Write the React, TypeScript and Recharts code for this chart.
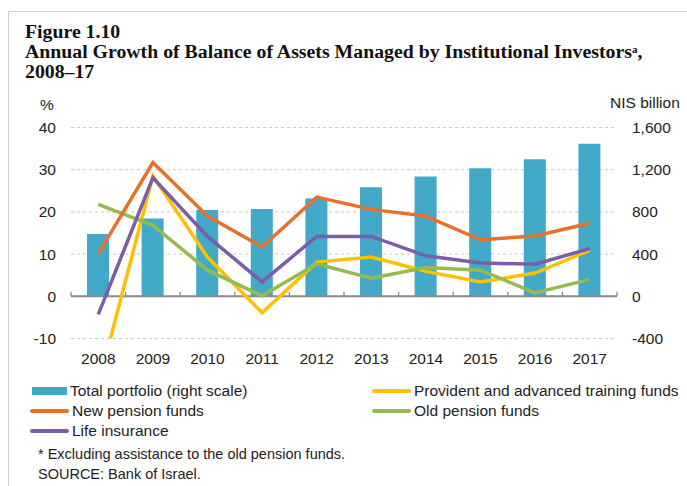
import React from 'react';
import { ComposedChart, Bar, Line, XAxis, YAxis, CartesianGrid, ReferenceLine } from 'recharts';

const years = ['2008', '2009', '2010', '2011', '2012', '2013', '2014', '2015', '2016', '2017'];
const totalPortfolio = [590, 737, 818, 828, 926, 1033, 1135, 1213, 1299, 1447];
const newPension = [10.1, 31.7, 19.0, 11.7, 23.5, 20.6, 19.0, 13.4, 14.3, 17.3];
const provident = [-21, 28.5, 9.3, -3.9, 8.1, 9.3, 5.9, 3.4, 5.5, 10.9];
const oldPension = [21.8, 16.8, 6.2, 0.1, 7.7, 4.3, 6.8, 6.2, 0.8, 4.0];
const lifeInsurance = [-4.3, 28.1, 14.2, 3.4, 14.2, 14.2, 9.6, 7.9, 7.6, 11.3];

const leftTicks = [-10, 0, 10, 20, 30, 40];
const rightTicks = [-400, 0, 400, 800, 1200, 1600];

const titleLines = ['Figure 1.10', 'Annual Growth of Balance of Assets Managed by Institutional Investors', '2008\u201317'];
const footnote = '* Excluding assistance to the old pension funds.';
const source = 'SOURCE: Bank of Israel.';

const COLORS = {
  total: '#42A9C8',
  newPension: '#E8702A',
  provident: '#FFC000',
  oldPension: '#93BB52',
  life: '#7B5EA7',
};

const legendItems = [
  { name: 'Total portfolio (right scale)', color: COLORS.total, kind: 'bar', col: 0, row: 0 },
  { name: 'Provident and advanced training funds', color: COLORS.provident, kind: 'line', col: 1, row: 0 },
  { name: 'New pension funds', color: COLORS.newPension, kind: 'line', col: 0, row: 1 },
  { name: 'Old pension funds', color: COLORS.oldPension, kind: 'line', col: 1, row: 1 },
  { name: 'Life insurance', color: COLORS.life, kind: 'line', col: 0, row: 2 },
];

const data = years.map((y, i) => ({
  year: y,
  total: totalPortfolio[i],
  newPension: newPension[i],
  provident: provident[i],
  oldPension: oldPension[i],
  life: lifeInsurance[i],
}));

const SANS = '"Liberation Sans", Arial, sans-serif';
const SERIF = '"Liberation Serif", "Times New Roman", serif';

const ZeroAxis = (props: any) => {
  const { x1, x2, y1 } = props;
  const n = years.length;
  const step = (x2 - x1) / n;
  const ticks = [];
  for (let i = 0; i <= n; i++) {
    const x = x1 + i * step;
    ticks.push(<line key={i} x1={x} x2={x} y1={y1} y2={y1 - 4.5} stroke="#8a8a8a" strokeWidth={1.3} />);
  }
  return (
    <g>
      <line x1={x1} x2={x2} y1={y1} y2={y1} stroke="#8a8a8a" strokeWidth={2} />
      {ticks}
    </g>
  );
};

export default function App() {
  const tickStyle = { fontSize: 15.5, fill: '#222', fontFamily: SANS };
  return (
    <div style={{ position: 'relative', width: 687, height: 486, background: '#fff', overflow: 'hidden' }}>
      <style>{`body{margin:0;}`}</style>
      <div style={{ position: 'absolute', left: 8, top: 11, width: 720, height: 520, borderLeft: '1.5px solid #cfcfcf', borderTop: '1.5px solid #cfcfcf' }} />
      <div style={{ position: 'absolute', left: 25, top: 21, fontFamily: SERIF, fontWeight: 'bold', fontSize: 19.8, lineHeight: '20px', color: '#111', whiteSpace: 'nowrap' }}>
        <div>{titleLines[0]}</div>
        <div>{titleLines[1]}<sup style={{ fontSize: 11, verticalAlign: 'top', position: 'relative', top: -2 }}>a</sup>,</div>
        <div>{titleLines[2]}</div>
      </div>
      <div style={{ position: 'absolute', left: 40, top: 96, fontFamily: SANS, fontSize: 15.5, color: '#222' }}>%</div>
      <div style={{ position: 'absolute', left: 610, top: 94, fontFamily: SANS, fontSize: 15.5, color: '#222' }}>NIS billion</div>
      <div style={{ position: 'absolute', left: 0, top: 0 }}>
        <ComposedChart width={687} height={486} data={data} margin={{ top: 127.5, right: 10, bottom: 117.5, left: 11 }}>
          <CartesianGrid horizontal vertical={false} stroke="#c8c8c8" strokeDasharray="3 3" yAxisId="left" />
          <XAxis dataKey="year" axisLine={false} tickLine={false} tickSize={0} tickMargin={14} height={30} tick={tickStyle} interval={0} />
          <YAxis yAxisId="left" orientation="left" domain={[-10, 40]} ticks={leftTicks} allowDataOverflow axisLine={false} tickLine={false} tickSize={0} tickMargin={15} width={60} tick={tickStyle} />
          <YAxis yAxisId="right" orientation="right" domain={[-400, 1600]} ticks={rightTicks} allowDataOverflow axisLine={false} tickLine={false} tickSize={0} tickMargin={15} width={60} tick={{ ...tickStyle, textAnchor: 'start' }} tickFormatter={(v: number) => v.toLocaleString('en-US')} />
          <Bar yAxisId="right" dataKey="total" fill={COLORS.total} barSize={22} isAnimationActive={false} />
          <ReferenceLine yAxisId="left" y={0} shape={ZeroAxis} />
          <Line yAxisId="left" dataKey="provident" stroke={COLORS.provident} strokeWidth={3.5} dot={false} isAnimationActive={false} />
          <Line yAxisId="left" dataKey="oldPension" stroke={COLORS.oldPension} strokeWidth={3.5} dot={false} isAnimationActive={false} />
          <Line yAxisId="left" dataKey="life" stroke={COLORS.life} strokeWidth={3.5} dot={false} isAnimationActive={false} />
          <Line yAxisId="left" dataKey="newPension" stroke={COLORS.newPension} strokeWidth={3.5} dot={false} isAnimationActive={false} />
        </ComposedChart>
      </div>
      {legendItems.map((it) => {
        const left = it.col === 0 ? 30 : 372;
        const top = 381 + it.row * 20.2;
        return (
          <div key={it.name} style={{ position: 'absolute', left, top, height: 20, display: 'flex', alignItems: 'center', fontFamily: SANS, fontSize: 15.5, color: '#222', whiteSpace: 'nowrap' }}>
            {it.kind === 'bar' ? (
              <span style={{ display: 'inline-block', width: 35, height: 8, margin: '0 3px 0 2px', background: it.color }} />
            ) : (
              <span style={{ display: 'inline-block', width: 39, height: 4, borderRadius: 2, marginRight: 3, background: it.color }} />
            )}
            <span>{it.name}</span>
          </div>
        );
      })}
      <div style={{ position: 'absolute', left: 38, top: 446, fontFamily: SANS, fontSize: 14.5, color: '#222', whiteSpace: 'nowrap' }}>{footnote}</div>
      <div style={{ position: 'absolute', left: 38, top: 466, fontFamily: SANS, fontSize: 14.5, color: '#222', whiteSpace: 'nowrap' }}>{source}</div>
    </div>
  );
}
